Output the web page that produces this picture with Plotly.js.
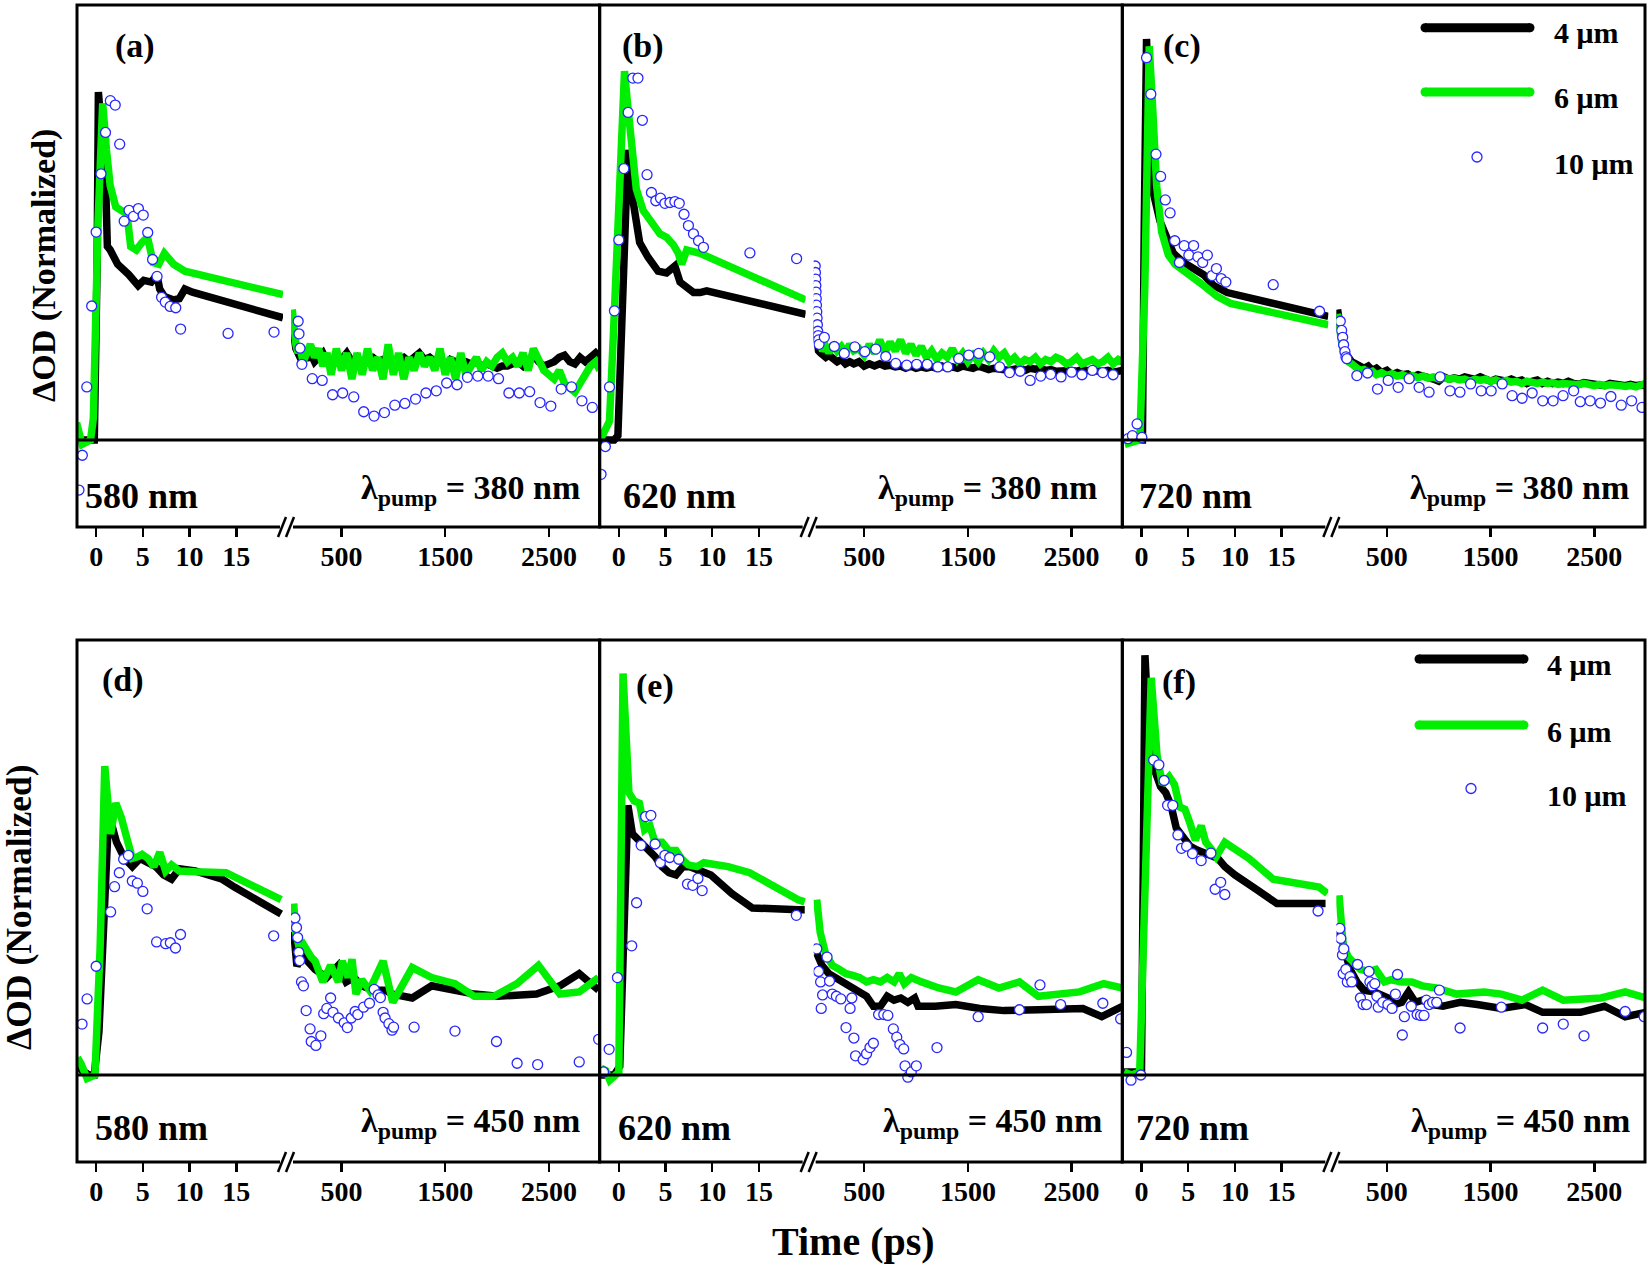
<!DOCTYPE html>
<html><head><meta charset="utf-8">
<script src="https://cdn.plot.ly/plotly-3.0.1.min.js"></script>
<style>html,body{margin:0;padding:0;background:#fff}#chart{width:1651px;height:1265px}</style>
</head><body><div id="chart"></div>
<script>
// ---------- shared late-time grid (ps) ----------
const tLate = [25,40,60,80,100,130,160,200,240,280,320,360,400,450,500,550,600,650,700,750,800,850,900,950,1000,1050,1100,1150,1200,1250,1300,1350,1400,1450,1500,1550,1600,1650,1700,1750,1800,1850,1900,1950,2000,2050,2100,2150,2200,2250,2300,2350,2400,2450,2500,2550,2600,2650,2700,2750,2800,2850,2900,2950,2990];
const tickLeft = [0,5,10,15];
const tickRight = [500,1500,2500];
const legendNames = ['4 μm','6 μm','10 μm'];
const panelLetters = ['(a)','(b)','(c)','(d)','(e)','(f)'];
const probeLabels = ['580 nm','620 nm','720 nm','580 nm','620 nm','720 nm'];
const pumpLabels = ['380','380','380','450','450','450'];

// ---------- panel (a) ----------
const aBlackTe = [-2.1,-0.2,0.1,0.24,1.0,1.2,1.5,2.3,3.5,4.5,5.1,5.9,6.5,6.8,7.3,8.3,8.9,9.5,10.3,20];
const aBlackVe = [0,0,0.4,0.80,0.60,0.445,0.437,0.404,0.38,0.355,0.367,0.363,0.38,0.347,0.33,0.322,0.325,0.347,0.34,0.281];
const aBlackVl = [0.27,0.24,0.21,0.2,0.19,0.2,0.185,0.2,0.18,0.19,0.2,0.18,0.17,0.19,0.185,0.2,0.18,0.19,0.175,0.19,0.19,0.18,0.185,0.19,0.17,0.185,0.19,0.18,0.19,0.2,0.185,0.19,0.18,0.19,0.17,0.185,0.18,0.175,0.18,0.175,0.18,0.17,0.175,0.17,0.165,0.17,0.17,0.175,0.18,0.17,0.18,0.195,0.18,0.17,0.175,0.18,0.19,0.195,0.18,0.175,0.19,0.18,0.19,0.2,0.19];
const aGreenTe = [-2.1,-1.5,-0.6,-0.3,0.2,0.7,1.1,1.5,2.1,3.3,3.7,4.3,4.9,5.5,6.1,6.7,7.3,8.3,9.5,20];
const aGreenVe = [0.04,-0.01,0.0,0.05,0.5,0.774,0.667,0.585,0.536,0.519,0.445,0.437,0.454,0.466,0.408,0.404,0.429,0.404,0.388,0.334];
const aGreenVl = [0.30,0.25,0.22,0.2,0.21,0.18,0.2,0.22,0.19,0.21,0.17,0.2,0.15,0.21,0.16,0.2,0.14,0.2,0.15,0.21,0.16,0.19,0.14,0.22,0.15,0.2,0.14,0.19,0.16,0.2,0.17,0.19,0.16,0.21,0.15,0.19,0.14,0.2,0.15,0.17,0.19,0.16,0.18,0.17,0.19,0.2,0.18,0.19,0.17,0.2,0.16,0.21,0.18,0.16,0.15,0.14,0.16,0.13,0.12,0.11,0.13,0.15,0.17,0.18,0.16];
const aBlueT = [-1.84,-1.48,-1.0,-0.48,0.0,0.52,1.0,1.52,2.04,2.52,3.0,3.52,4.0,4.52,5.04,5.52,6.04,6.52,7.0,7.4,7.92,8.52,9.04,14.12,19.04,82,90,100,118,218,314,414,511,618,714,814,914,1014,1111,1214,1314,1414,1514,1614,1714,1814,1914,2014,2114,2214,2314,2414,2518,2618,2718,2818,2918];
const aBlueV = [-0.115,-0.035,0.122,0.308,0.478,0.612,0.707,0.78,0.77,0.68,0.503,0.528,0.514,0.532,0.517,0.477,0.415,0.376,0.328,0.317,0.307,0.304,0.255,0.245,0.248,0.273,0.244,0.211,0.174,0.141,0.137,0.104,0.108,0.099,0.065,0.055,0.063,0.08,0.084,0.094,0.108,0.113,0.131,0.127,0.144,0.147,0.147,0.141,0.108,0.108,0.111,0.086,0.078,0.117,0.122,0.09,0.075];

// ---------- panel (b) ----------
const bBlackTe = [-2.0,-0.5,-0.1,0.4,0.97,1.5,2.23,3.13,4.2,5.1,6.0,6.55,7.27,8.0,8.7,9.4,20];
const bBlackVe = [0,0,0.01,0.3,0.667,0.552,0.454,0.42,0.388,0.384,0.40,0.363,0.351,0.339,0.339,0.343,0.289];
const bBlackVl = [0.27,0.22,0.205,0.2,0.195,0.19,0.195,0.185,0.18,0.185,0.175,0.18,0.175,0.18,0.17,0.175,0.17,0.175,0.17,0.172,0.168,0.17,0.165,0.17,0.165,0.168,0.165,0.168,0.165,0.17,0.165,0.168,0.165,0.17,0.168,0.165,0.17,0.168,0.162,0.165,0.163,0.165,0.16,0.163,0.165,0.16,0.165,0.163,0.165,0.16,0.162,0.158,0.16,0.162,0.16,0.158,0.162,0.16,0.158,0.16,0.158,0.16,0.156,0.158,0.16];
const bGreenTe = [-2.0,-1.0,-0.47,0.0,0.61,0.9,1.33,1.87,2.6,3.67,4.4,5.1,5.83,6.37,6.73,7.27,8.7,20];
const bGreenVe = [0,0.043,0.297,0.52,0.848,0.78,0.667,0.577,0.528,0.495,0.474,0.466,0.449,0.429,0.404,0.437,0.429,0.322];
const bGreenVl = [0.26,0.23,0.215,0.22,0.205,0.215,0.2,0.22,0.205,0.215,0.2,0.22,0.205,0.21,0.195,0.22,0.2,0.23,0.2,0.225,0.205,0.23,0.2,0.22,0.195,0.215,0.19,0.205,0.185,0.2,0.19,0.21,0.185,0.2,0.18,0.195,0.18,0.2,0.185,0.205,0.19,0.2,0.18,0.19,0.175,0.185,0.18,0.19,0.175,0.185,0.18,0.19,0.185,0.175,0.18,0.19,0.175,0.18,0.185,0.175,0.18,0.19,0.175,0.185,0.18];
const bBlueT = [-1.9,-1.44,-1.0,-0.47,0.0,0.54,1.0,1.5,2.05,2.52,3.02,3.49,3.96,4.46,4.93,5.47,6.0,6.47,6.98,7.45,7.99,8.53,9.06,14.03,19.03,28,30,32,34,36,38,40,43,46,49,52,56,60,65,116,212,308,410,506,612,708,804,910,1006,1108,1210,1306,1412,1508,1604,1710,1806,1902,2004,2100,2202,2298,2398,2500,2600,2700,2800,2900];
const bBlueV = [-0.079,-0.015,0.122,0.297,0.46,0.624,0.753,0.832,0.832,0.735,0.61,0.569,0.55,0.556,0.544,0.546,0.548,0.544,0.519,0.493,0.474,0.458,0.443,0.43,0.417,0.40,0.385,0.37,0.355,0.34,0.325,0.31,0.295,0.28,0.265,0.25,0.24,0.23,0.22,0.236,0.215,0.199,0.214,0.203,0.209,0.192,0.176,0.172,0.174,0.174,0.168,0.168,0.187,0.195,0.199,0.191,0.168,0.155,0.158,0.137,0.147,0.151,0.145,0.156,0.15,0.16,0.155,0.15];

// ---------- panel (c) ----------
const cBlackTe = [-1.8,0.1,0.3,0.54,0.83,1.26,1.98,2.7,3.42,4.5,5.58,6.65,7.73,9.17,20];
const cBlackVe = [0,0,0.5,0.922,0.725,0.569,0.503,0.462,0.429,0.408,0.396,0.38,0.355,0.339,0.284];
const cBlackVl = [0.3,0.27,0.24,0.215,0.2,0.19,0.18,0.175,0.17,0.165,0.17,0.16,0.165,0.155,0.16,0.15,0.155,0.15,0.152,0.145,0.15,0.148,0.145,0.14,0.135,0.145,0.14,0.143,0.14,0.145,0.142,0.14,0.145,0.138,0.135,0.14,0.138,0.135,0.14,0.135,0.138,0.13,0.135,0.138,0.13,0.135,0.13,0.133,0.13,0.135,0.13,0.128,0.132,0.13,0.128,0.13,0.125,0.13,0.127,0.128,0.125,0.128,0.125,0.127,0.125];
const cGreenTe = [-1.8,-0.18,0.36,0.83,1.19,1.62,2.16,2.88,3.6,4.68,5.58,6.65,8.09,9.53,20];
const cGreenVe = [-0.01,0,0.355,0.905,0.766,0.585,0.478,0.425,0.404,0.388,0.371,0.355,0.33,0.314,0.265];
const cGreenVl = [0.29,0.25,0.23,0.205,0.19,0.18,0.175,0.165,0.16,0.162,0.155,0.158,0.15,0.155,0.148,0.152,0.147,0.15,0.145,0.148,0.143,0.147,0.142,0.145,0.14,0.143,0.14,0.142,0.138,0.14,0.135,0.14,0.137,0.14,0.135,0.138,0.133,0.137,0.133,0.135,0.13,0.135,0.132,0.13,0.133,0.13,0.132,0.128,0.13,0.128,0.13,0.127,0.13,0.127,0.125,0.128,0.125,0.127,0.124,0.125,0.123,0.125,0.122,0.125,0.13];
const cBlueT = [-1.44,-0.97,-0.47,0.04,0.54,1.0,1.55,2.05,2.55,3.06,3.56,4.06,4.57,5.07,5.58,6.04,6.55,7.05,7.55,8.02,8.53,9.03,14.1,19.06,51,64,74,83,96,106,115,211,314,410,513,609,715,811,907,1013,1109,1205,1308,1410,1506,1612,1708,1804,1901,2003,2103,2199,2301,2365,2460,2560,2660,2760,2860,2960];
const cBlueV = [0.003,0.01,0.037,0.006,0.879,0.795,0.657,0.606,0.552,0.522,0.458,0.408,0.447,0.425,0.447,0.421,0.408,0.425,0.378,0.394,0.371,0.363,0.357,0.296,0.273,0.252,0.236,0.219,0.203,0.191,0.187,0.148,0.154,0.117,0.137,0.121,0.141,0.121,0.11,0.145,0.113,0.11,0.129,0.113,0.113,0.129,0.102,0.096,0.108,0.09,0.09,0.102,0.113,0.088,0.09,0.085,0.1,0.08,0.09,0.075];

// ---------- panel (d) ----------
const dBlackT = [-2.0,-1.5,-0.76,-0.2,0.3,1.34,2.18,3.03,3.87,4.7,5.55,6.39,7.23,8.07,8.9,10.6,13.5,14.8,19.8,39,70,120,170,245,358,470,545,620,695,807,920,994,1182,1369,1556,1781,2006,2380,2605,2792,2979];
const dBlackV = [0.025,0.01,0,0,0.1,0.601,0.535,0.498,0.479,0.498,0.488,0.479,0.46,0.45,0.474,0.469,0.45,0.432,0.37,0.33,0.25,0.28,0.262,0.243,0.224,0.252,0.214,0.224,0.205,0.195,0.195,0.186,0.177,0.205,0.195,0.186,0.181,0.186,0.205,0.233,0.195];
const dGreenT = [-2.0,-1.6,-0.97,-0.13,0.42,0.92,1.55,2.1,2.69,3.24,3.87,4.5,4.92,5.55,6.18,6.81,7.44,8.07,8.9,10.6,13.9,19.8,39,58,95,133,208,245,320,395,470,507,564,601,639,695,770,826,901,994,1182,1369,1594,1781,1968,2193,2399,2605,2792,2979];
const dGreenV = [0.04,0.025,-0.008,0,0.29,0.71,0.554,0.625,0.592,0.545,0.498,0.502,0.507,0.498,0.479,0.512,0.469,0.483,0.469,0.467,0.465,0.403,0.394,0.328,0.29,0.3,0.271,0.262,0.214,0.252,0.214,0.262,0.224,0.266,0.186,0.219,0.195,0.224,0.262,0.167,0.247,0.224,0.21,0.181,0.181,0.21,0.252,0.186,0.191,0.224];
const dBlueT = [-1.51,-0.97,0.0,1.55,1.97,2.48,2.94,3.45,3.87,4.41,5.0,5.46,6.47,7.44,7.94,8.49,9.03,19.0,51,66,77,88,96,114,133,159,197,208,253,301,328,358,395,418,470,526,556,594,631,657,713,770,815,852,875,901,920,957,987,1002,1200,1594,1994,2193,2391,2792,2979];
const dBlueV = [0.117,0.175,0.25,0.375,0.433,0.465,0.496,0.505,0.446,0.441,0.422,0.382,0.306,0.302,0.304,0.292,0.323,0.32,0.361,0.339,0.316,0.282,0.263,0.214,0.205,0.148,0.106,0.077,0.068,0.09,0.141,0.153,0.177,0.144,0.131,0.12,0.109,0.131,0.146,0.139,0.156,0.165,0.197,0.184,0.178,0.144,0.131,0.118,0.103,0.11,0.11,0.101,0.077,0.027,0.024,0.03,0.082];

// ---------- panel (e) ----------
const eBlackT = [-1.9,-0.5,0.1,0.97,1.46,2.39,3.32,3.88,4.63,5.37,6.12,6.87,7.61,8.73,9.85,12.1,14.3,19.2,19.9,43,93,159,225,324,424,523,589,656,722,788,854,921,987,1020,1185,1384,1616,1848,2179,2609,2791,2990];
const eBlackV = [0,0,0.02,0.62,0.554,0.535,0.516,0.502,0.479,0.465,0.46,0.479,0.479,0.469,0.46,0.417,0.384,0.38,0.38,0.28,0.252,0.233,0.224,0.21,0.195,0.181,0.158,0.158,0.181,0.172,0.177,0.167,0.177,0.158,0.158,0.162,0.153,0.148,0.15,0.153,0.134,0.158];
const eGreenT = [-1.9,-1.4,-0.97,0.0,0.45,0.82,1.08,1.64,2.2,2.76,3.32,3.88,4.63,5.37,6.12,6.68,7.43,8.36,9.1,11.7,14.0,19.2,19.9,43,76,126,192,258,324,391,457,523,589,656,722,788,838,887,954,1053,1219,1384,1599,1798,1997,2179,2377,2576,2808,2990];
const eGreenV = [0.016,0.01,-0.012,0.007,0.923,0.762,0.649,0.63,0.625,0.564,0.573,0.535,0.535,0.516,0.516,0.498,0.483,0.479,0.488,0.479,0.465,0.403,0.398,0.403,0.328,0.28,0.252,0.243,0.233,0.229,0.224,0.214,0.219,0.214,0.224,0.214,0.233,0.21,0.224,0.214,0.2,0.191,0.219,0.2,0.214,0.181,0.186,0.191,0.21,0.2];
const eBlueT = [-1.64,-1.04,-0.15,1.38,1.9,2.39,2.87,3.43,3.88,4.44,4.93,5.45,6.42,7.35,7.91,8.47,8.92,19.0,43,60,80,86,99,142,166,192,232,275,325,364,381,401,417,490,523,556,589,639,689,728,781,814,844,881,894,921,954,1003,1202,1599,1997,2195,2394,2801,2973];
const eBlueV = [0.007,0.059,0.224,0.297,0.396,0.528,0.594,0.597,0.531,0.488,0.505,0.5,0.496,0.439,0.436,0.452,0.424,0.367,0.29,0.238,0.214,0.153,0.184,0.271,0.216,0.186,0.181,0.175,0.109,0.153,0.177,0.085,0.044,0.035,0.049,0.063,0.073,0.139,0.139,0.137,0.106,0.087,0.07,0.06,0.021,-0.005,0.007,0.021,0.063,0.134,0.15,0.207,0.162,0.165,0.129];

// ---------- panel (f) ----------
const fBlackT = [-1.86,-0.2,0.0,0.2,0.37,0.74,1.04,1.49,2.04,2.6,3.16,3.72,4.46,5.2,5.95,6.69,7.43,8.18,8.92,10.0,12.3,14.5,19.7,46,95,145,211,278,377,444,510,576,643,709,775,842,941,1041,1207,1372,1604,1837,2002,2367,2599,2798,2997];
const fBlackV = [0.007,0.007,0.007,0.5,0.965,0.809,0.734,0.696,0.663,0.649,0.62,0.568,0.545,0.526,0.517,0.512,0.507,0.498,0.479,0.46,0.427,0.394,0.394,0.328,0.29,0.243,0.214,0.195,0.191,0.186,0.177,0.162,0.167,0.191,0.167,0.172,0.162,0.158,0.167,0.162,0.153,0.162,0.144,0.144,0.158,0.134,0.144];
const fGreenT = [-1.86,-1.1,-0.19,0.4,1.04,1.67,2.23,2.97,3.53,4.09,4.65,5.2,5.76,6.39,6.88,7.43,7.99,8.92,11.5,14.1,19.0,19.9,39,52,79,129,178,245,328,394,477,543,643,742,842,974,1173,1439,1604,1803,2002,2201,2566,2798,2997];
const fGreenV = [0.007,0.0,0.007,0.4,0.913,0.734,0.668,0.686,0.668,0.616,0.611,0.578,0.54,0.573,0.535,0.521,0.502,0.535,0.498,0.45,0.432,0.417,0.413,0.365,0.299,0.271,0.257,0.243,0.238,0.243,0.214,0.219,0.214,0.214,0.205,0.2,0.186,0.191,0.186,0.172,0.195,0.172,0.177,0.191,0.177];
const fBlueT = [-1.6,-1.12,-0.07,1.3,1.86,2.42,2.79,3.35,3.9,4.28,4.83,5.46,6.39,7.43,7.88,8.48,8.92,18.9,46,56,72,79,85,105,119,145,162,218,245,271,304,328,337,360,384,404,417,460,510,550,583,603,649,669,735,792,825,858,881,908,941,981,1007,1206,1604,2002,2201,2401,2798,2981];
const fBlueV = [0.052,-0.012,0.0,0.724,0.713,0.677,0.62,0.62,0.552,0.521,0.526,0.509,0.493,0.51,0.427,0.443,0.415,0.377,0.337,0.314,0.276,0.233,0.29,0.243,0.214,0.226,0.214,0.254,0.177,0.162,0.162,0.238,0.214,0.205,0.21,0.181,0.156,0.167,0.162,0.153,0.186,0.231,0.092,0.134,0.158,0.139,0.137,0.137,0.172,0.162,0.167,0.167,0.195,0.108,0.156,0.108,0.117,0.09,0.146,0.134];

// ---------- assemble ----------
const series = [
  {bt:aBlackTe.concat(tLate), bv:aBlackVe.concat(aBlackVl), gt:aGreenTe.concat(tLate), gv:aGreenVe.concat(aGreenVl), ct:aBlueT, cv:aBlueV},
  {bt:bBlackTe.concat(tLate), bv:bBlackVe.concat(bBlackVl), gt:bGreenTe.concat(tLate), gv:bGreenVe.concat(bGreenVl), ct:bBlueT, cv:bBlueV},
  {bt:cBlackTe.concat(tLate), bv:cBlackVe.concat(cBlackVl), gt:cGreenTe.concat(tLate), gv:cGreenVe.concat(cGreenVl), ct:cBlueT, cv:cBlueV},
  {bt:dBlackT, bv:dBlackV, gt:dGreenT, gv:dGreenV, ct:dBlueT, cv:dBlueV},
  {bt:eBlackT, bv:eBlackV, gt:eGreenT, gv:eGreenV, ct:eBlueT, cv:eBlueV},
  {bt:fBlackT, bv:fBlackV, gt:fGreenT, gv:fGreenV, ct:fBlueT, cv:fBlueV}
];

// ---------- geometry (pixels) ----------
const W = 1651, H = 1265, ML = 77, MR = 6, MT = 5, MB = 103;
const PW = W - ML - MR, PH = H - MT - MB;
const panelW = PW / 3;
const BOTTOM = H - MB;
const px2x = px => (px - ML) / PW;
const px2y = py => (BOTTOM - py) / PH;
const rowDom = [[px2y(527), 1], [0, px2y(640)]];
const LEFT_END = 206, RIGHT_START = 214;
const FONT = 'Liberation Serif, Times New Roman, Times, serif';
const BLACK = '#000000', GREEN = '#00ee00', BLUE = '#2828ff';

const letterPos = [[135,46],[642.7,46],[1181.7,46],[123,680],[655,686],[1179,682]];
const probeOff = [6,21,15,16,16,12];
const pumpGap = [18,23,14,18,18,13];
const probeY = [496,496,496,1128,1128,1128];
const pumpY = [490,490,490,1123,1123,1123];

const traces = [];
const layout = {
  width: W, height: H, showlegend: false,
  margin: {l: ML, r: MR, t: MT, b: MB, pad: 0},
  paper_bgcolor: '#ffffff', plot_bgcolor: 'rgba(0,0,0,0)',
  shapes: [], annotations: []
};

function split(t, v) {
  const L = {x: [], y: []}, R = {x: [], y: []};
  t.forEach((ti, i) => { const s = ti <= 20.5 ? L : R; s.x.push(ti); s.y.push(v[i]); });
  return [L, R];
}

for (let p = 0; p < 6; p++) {
  const row = p < 3 ? 0 : 1, col = p % 3;
  const xl = 2 * p + 1, xr = 2 * p + 2, yi = p + 1;
  const xlName = xl === 1 ? 'x' : 'x' + xl, xrName = 'x' + xr, yName = yi === 1 ? 'y' : 'y' + yi;
  const c0 = col / 3;
  const tickFont = {family: FONT, size: 28, color: '#000', weight: 'bold'};
  const axCommon = {showgrid: false, zeroline: false, showline: false, ticks: 'outside', ticklen: 9,
    tickwidth: 2.5, tickcolor: '#000', tickmode: 'array', tickfont: tickFont, fixedrange: true,
    anchor: yName, ticklabelstandoff: -5};
  layout[xl === 1 ? 'xaxis' : 'xaxis' + xl] = Object.assign({}, axCommon, {
    domain: [c0, c0 + LEFT_END / PW], range: [-2.05, 20.0],
    tickvals: tickLeft, ticktext: tickLeft.map(v => '<b>' + v + '</b>')});
  layout['xaxis' + xr] = Object.assign({}, axCommon, {
    domain: [c0 + RIGHT_START / PW, (col + 1) / 3], range: [13, 2989],
    tickvals: tickRight, ticktext: tickRight.map(v => '<b>' + v + '</b>')});
  layout[yi === 1 ? 'yaxis' : 'yaxis' + yi] = {domain: rowDom[row], range: [-0.2, 1.0], anchor: xlName,
    showgrid: false, zeroline: false, showline: false, showticklabels: false, ticks: '', fixedrange: true};

  const s = series[p];
  const groups = [
    [s.bt, s.bv, {mode: 'lines', line: {color: BLACK, width: 7.5}}],
    [s.gt, s.gv, {mode: 'lines', line: {color: GREEN, width: 7.5}}],
    [s.ct, s.cv, {mode: 'markers', marker: {symbol: 'circle', size: 10, color: '#ffffff', line: {color: BLUE, width: 1.3}}}]
  ];
  groups.forEach(([t, v, style]) => {
    const [L, R] = split(t, v);
    traces.push(Object.assign({x: L.x, y: L.y, xaxis: xlName, yaxis: yName, hoverinfo: 'skip'}, style));
    traces.push(Object.assign({x: R.x, y: R.y, xaxis: xrName, yaxis: yName, hoverinfo: 'skip'}, style));
  });

  // frame
  layout.shapes.push({type: 'rect', xref: 'paper', yref: 'paper', x0: c0, x1: (col + 1) / 3,
    y0: rowDom[row][0], y1: rowDom[row][1], line: {color: '#000', width: 3}, fillcolor: 'rgba(0,0,0,0)', layer: 'above'});
  // zero line
  layout.shapes.push({type: 'line', xref: 'paper', yref: yName, x0: c0, x1: (col + 1) / 3, y0: 0, y1: 0,
    line: {color: '#000', width: 3}, layer: 'above'});
  // axis break marks
  const yb = rowDom[row][0];
  const bx = off => c0 + off / PW;
  layout.shapes.push({type: 'rect', xref: 'paper', yref: 'paper', x0: bx(203), x1: bx(216),
    y0: yb - 3 / PH, y1: yb + 3 / PH, line: {width: 0}, fillcolor: '#ffffff', layer: 'above'});
  [201, 209].forEach(o => layout.shapes.push({type: 'line', xref: 'paper', yref: 'paper',
    x0: bx(o), x1: bx(o + 8), y0: yb - 10 / PH, y1: yb + 10 / PH, line: {color: '#000', width: 2.5}, layer: 'above'}));

  // panel texts
  const lx = letterPos[p];
  layout.annotations.push({xref: 'paper', yref: 'paper', x: px2x(lx[0]), y: px2y(lx[1]), xanchor: 'center', yanchor: 'middle',
    text: '<b>' + panelLetters[p] + '</b>', showarrow: false, font: {family: FONT, size: 34, color: '#000', weight: 'bold'}});
  const leftPx = ML + col * panelW, rightPx = ML + (col + 1) * panelW;
  layout.annotations.push({xref: 'paper', yref: 'paper', x: px2x(leftPx + probeOff[p]), y: px2y(probeY[p]),
    xanchor: 'left', yanchor: 'middle', text: '<b>' + probeLabels[p] + '</b>', showarrow: false,
    font: {family: FONT, size: 36, color: '#000', weight: 'bold'}});
  layout.annotations.push({xref: 'paper', yref: 'paper', x: px2x(rightPx - pumpGap[p]), y: px2y(pumpY[p]),
    xanchor: 'right', yanchor: 'middle', text: '<b>λ<sub>pump</sub> = ' + pumpLabels[p] + ' nm</b>', showarrow: false,
    font: {family: FONT, size: 34, color: '#000', weight: 'bold'}});
}

// axis titles
layout.annotations.push({xref: 'paper', yref: 'paper', x: px2x(44), y: px2y(266), textangle: -90,
  xanchor: 'center', yanchor: 'middle', text: '<b>ΔOD (Normalized)</b>', showarrow: false,
  font: {family: FONT, size: 34, color: '#000', weight: 'bold'}});
layout.annotations.push({xref: 'paper', yref: 'paper', x: px2x(19), y: px2y(908), textangle: -90,
  xanchor: 'center', yanchor: 'middle', text: '<b>ΔOD (Normalized)</b>', showarrow: false,
  font: {family: FONT, size: 35.5, color: '#000', weight: 'bold'}});
layout.annotations.push({xref: 'paper', yref: 'paper', x: px2x(853), y: px2y(1241),
  xanchor: 'center', yanchor: 'middle', text: '<b>Time (ps)</b>', showarrow: false,
  font: {family: FONT, size: 40, color: '#000', weight: 'bold'}});

// custom legends in panels (c) and (f)
const legends = [
  {x0: 1425, x1: 1530, ys: [27.7, 92, 157], tx: 1552, tys: [33, 98, 163], cx: 1477},
  {x0: 1419, x1: 1524, ys: [659, 725, 788.5], tx: 1545, tys: [665, 731, 795], cx: 1471}
];
legends.forEach(lg => {
  [[lg.ys[0], BLACK], [lg.ys[1], GREEN]].forEach(([yy, col]) => {
    layout.shapes.push({type: 'line', xref: 'paper', yref: 'paper', x0: px2x(lg.x0), x1: px2x(lg.x1),
      y0: px2y(yy), y1: px2y(yy), line: {color: col, width: 9}, layer: 'above'});
    [lg.x0, lg.x1].forEach(ex => layout.shapes.push({type: 'circle', xref: 'paper', yref: 'paper',
      x0: px2x(ex - 4.5), x1: px2x(ex + 4.5), y0: px2y(yy + 4.5), y1: px2y(yy - 4.5),
      line: {width: 0}, fillcolor: col, layer: 'above'}));
  });
  layout.shapes.push({type: 'circle', xref: 'paper', yref: 'paper', x0: px2x(lg.cx - 5), x1: px2x(lg.cx + 5),
    y0: px2y(lg.ys[2] + 5), y1: px2y(lg.ys[2] - 5), line: {color: BLUE, width: 1.3}, fillcolor: '#fff', layer: 'above'});
  legendNames.forEach((n, i) => layout.annotations.push({xref: 'paper', yref: 'paper', x: px2x(lg.tx), y: px2y(lg.tys[i]),
    xanchor: 'left', yanchor: 'middle', text: '<b>' + n + '</b>', showarrow: false,
    font: {family: FONT, size: 30, color: '#000', weight: 'bold'}}));
});

Plotly.newPlot('chart', traces, layout, {staticPlot: true, displayModeBar: false});
</script>
</body></html>
